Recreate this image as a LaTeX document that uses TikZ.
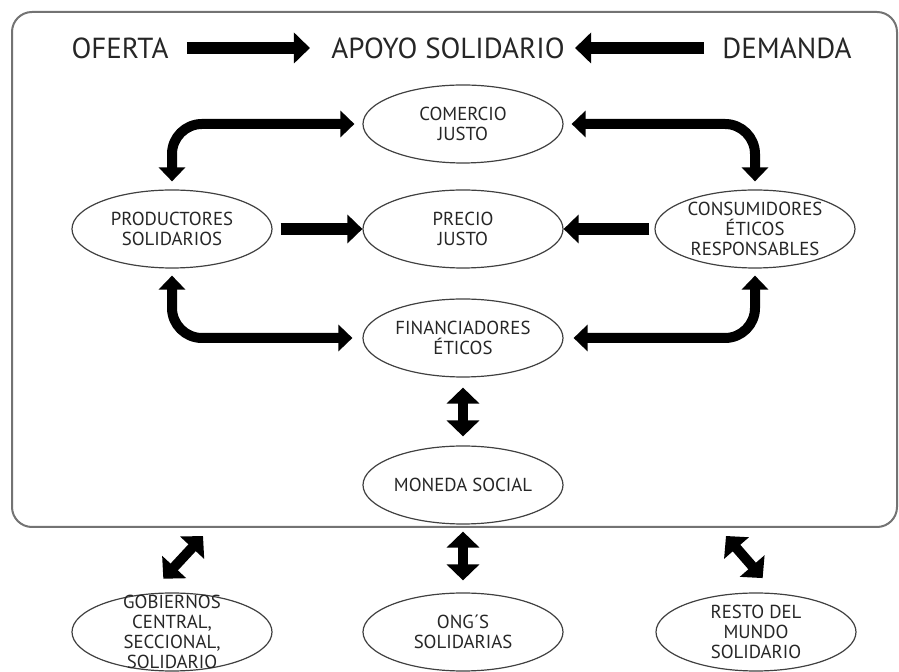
\documentclass[tikz,border=0pt]{standalone}
\usepackage{fontspec}
\setmainfont{PT Sans}
\usetikzlibrary{arrows.meta, positioning, shapes.geometric}

\begin{document}
\begin{tikzpicture}[x=0.5pt, y=-0.5pt,
      elli/.style={ellipse, draw=black!75, line width=0.6pt, minimum width=100pt, minimum height=39pt, inner sep=0pt, align=center, text=black!85, font=\fontsize{9.4}{10}\selectfont},
      title/.style={inner sep=0pt, text=black!85, font=\fontsize{14.5}{16}\selectfont},
      fat/.style={line width=6pt, -{Triangle[length=7.5pt, width=14pt]}},
      both/.style={line width=5pt, {Triangle[length=8pt, width=16pt]}-{Triangle[length=8pt, width=16pt]}},
      curved/.style={line width=5pt, rounded corners=15pt, {Triangle[length=7pt, width=13pt]}-{Triangle[length=7pt, width=13pt]}}]

      \useasboundingbox (0,0) rectangle (899,672);
      \draw[black!55, line width=1pt, rounded corners=10pt] (12,12) rectangle (897,527);

      \node[title] (oferta) at (120,48) {OFERTA};
      \node[title] (apoyo) at (448,48) {APOYO SOLIDARIO};
      \node[title] (demanda) at (787,48) {DEMANDA};

      \node[elli] (comercio) at (463,124) {COMERCIO\\JUSTO};
      \node[elli] (prod) at (172,229) {PRODUCTORES\\SOLIDARIOS};
      \node[elli] (precio) at (463,229) {PRECIO\\JUSTO};
      \node[elli, inner ysep=-1.5pt] (cons) at (755,229) {CONSUMIDORES\\ÉTICOS\\RESPONSABLES};
      \node[elli] (financ) at (463,338) {FINANCIADORES\\ÉTICOS};
      \node[elli] (moneda) at (463,485) {MONEDA SOCIAL};
      \node[elli, inner ysep=-6pt] (gob) at (172,632) {GOBIERNOS\\CENTRAL,\\SECCIONAL,\\SOLIDARIO};
      \node[elli] (ong) at (463,632) {ONG´S\\SOLIDARIAS};
      \node[elli, inner ysep=-1.5pt] (resto) at (756,632) {RESTO DEL\\MUNDO\\SOLIDARIO};

      \coordinate (gobend) at (203,536);
      \coordinate (restoend) at (726,536);

      % Arrows
      \draw[fat, -{Triangle[length=8pt, width=15pt]}, shorten <=9pt, shorten >=10.5pt] (oferta) -- (apoyo);
      \draw[fat, -{Triangle[length=8pt, width=15pt]}, shorten <=9pt, shorten >=5pt] (demanda) -- (apoyo);

      \draw[curved, shorten <=4pt, shorten >=4pt] (prod.north) |- (comercio.west);
      \draw[curved, shorten <=4pt, shorten >=4pt] (cons.north) |- (comercio.east);
      \draw[curved, shorten <=3.5pt, shorten >=5pt] (prod.south) |- (financ.west);
      \draw[curved, shorten <=3.5pt, shorten >=5pt] (cons.south) |- (financ.east);

      \draw[fat, shorten <=4pt] (prod) -- (precio);
      \draw[fat, shorten <=2.5pt] (cons) -- (precio);

      \draw[both, shorten <=5pt, shorten >=4.5pt] (financ) -- (moneda);
      \draw[both, shorten <=3.5pt, shorten >=6pt] (moneda) -- (ong);
      \draw[both, shorten <=10pt] (gob.120) -- (gobend);
      \draw[both, shorten <=10pt] (resto.63) -- (restoend);
    \end{tikzpicture}
\end{document}
